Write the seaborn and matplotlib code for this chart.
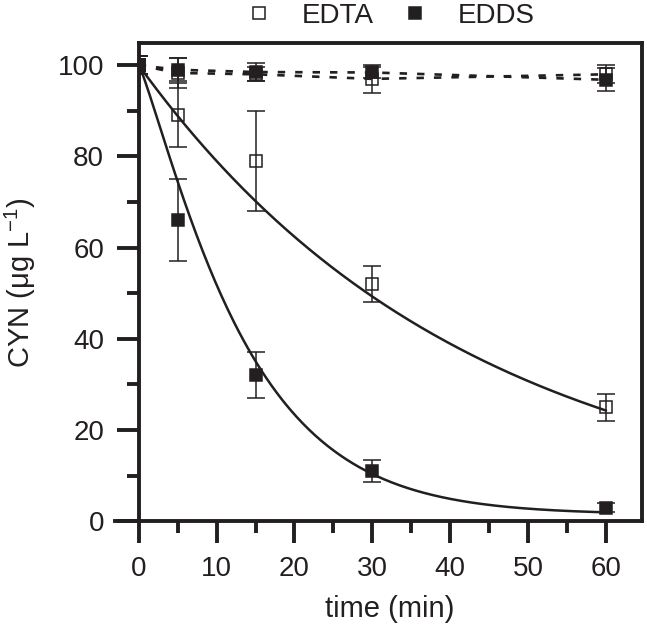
import numpy as np
import pandas as pd
import matplotlib
matplotlib.use("Agg")
import matplotlib.pyplot as plt
import seaborn as sns
from matplotlib.patches import Rectangle
from matplotlib.lines import Line2D
from matplotlib.ticker import MultipleLocator

# ---------------- data ----------------
time = [0, 5, 15, 30, 60]

edta = [100, 89, 79, 52, 25]
edta_err = [2, 7, 11, 4, 3]
edds = [100, 66, 32, 11, 3]
edds_err = [2, 9, 5, 2.5, 1]

edta_ctrl = [100, 98.3, 98.0, 97.0, 98.0]
edta_ctrl_err = [2, 3.2, 1.5, 3.0, 2.0]
edds_ctrl = [100, 99.0, 98.5, 98.4, 96.8]
edds_ctrl_err = [2, 2.5, 2.0, 1.2, 2.5]

# kinetic fit parameters of the solid curves
c0 = 100
edta_k = 0.0236                             # C = C0 exp(-k t)
edds_k, edds_n, edds_y0 = 0.0710, 1.163, 1.5  # C = y0 + (C0-y0) exp(-(k t)^n)

legend_labels = ["EDTA", "EDDS"]
x_ticks = [0, 10, 20, 30, 40, 50, 60]
y_ticks = [0, 20, 40, 60, 80, 100]

# ---------------- style ----------------
sns.set_style("ticks")
plt.rcParams["font.family"] = ["Liberation Sans", "DejaVu Sans"]
plt.rcParams["mathtext.fontset"] = "custom"
plt.rcParams["mathtext.rm"] = "Liberation Sans"
plt.rcParams["mathtext.default"] = "regular"

K = "#231f20"
fig = plt.figure(figsize=(6.47, 6.34), dpi=100)
ax = fig.add_axes([0.1771, 0.1779, 0.8149, 0.7538])

XMIN, XMAX, YMIN, YMAX = -3.1, 64.6, 0, 104.8
ax.set_xlim(XMIN, XMAX)
ax.set_ylim(YMIN, YMAX)

clip = Rectangle((0, YMIN), XMAX, YMAX - YMIN, transform=ax.transData)

df_ctrl = pd.DataFrame({"time": time * 2,
                        "CYN": edta_ctrl + edds_ctrl,
                        "series": ["EDTA"] * 5 + ["EDDS"] * 5})

# dashed control lines
sns.lineplot(data=df_ctrl, x="time", y="CYN", hue="series",
             palette={"EDTA": K, "EDDS": K}, lw=1.9, ax=ax,
             legend=False, zorder=2)
for ln in ax.lines:
    ln.set_dashes((2.8, 3.8))

# fitted curves
t_fit = np.linspace(0, 60, 300)
fit_df = pd.DataFrame({
    "time": np.concatenate([t_fit, t_fit]),
    "CYN": np.concatenate([
        c0 * np.exp(-edta_k * t_fit),
        edds_y0 + (c0 - edds_y0) * np.exp(-(edds_k * t_fit) ** edds_n)]),
    "series": ["EDTA"] * len(t_fit) + ["EDDS"] * len(t_fit)})
sns.lineplot(data=fit_df, x="time", y="CYN", hue="series",
             palette={"EDTA": K, "EDDS": K}, lw=1.8, ax=ax,
             legend=False, zorder=3)

def points(y, err, filled, z):
    cont = ax.errorbar(time, y, yerr=err, fmt="s", ms=8.8,
                       mfc=K if filled else "none", mec=K, mew=1.1,
                       ecolor=K, elinewidth=1.1, capsize=6.2, capthick=1.1,
                       zorder=z)
    for art in cont.get_children():
        art.set_clip_path(clip)
        art.set_zorder(z)

points(edta_ctrl, edta_ctrl_err, False, 4)
points(edds_ctrl, edds_ctrl_err, True, 5)
points(edta, edta_err, False, 4)
points(edds, edds_err, True, 5)

for ln in ax.lines:
    ln.set_clip_path(clip)

# ---------------- axes ----------------
ax.spines["left"].set_position(("data", 0))
ax.spines["top"].set_bounds(0, XMAX)
for s in ax.spines.values():
    s.set_linewidth(2.8)
    s.set_color(K)

ax.xaxis.set_major_locator(MultipleLocator(10))
ax.xaxis.set_minor_locator(MultipleLocator(5))
ax.yaxis.set_major_locator(MultipleLocator(20))
ax.yaxis.set_minor_locator(MultipleLocator(10))
ax.set_xticks(x_ticks)
ax.set_yticks(y_ticks)
ax.tick_params(which="both", direction="out", top=False, right=False)
ax.tick_params(which="major", length=16, width=2.8, color=K,
               labelsize=20, pad=9, labelcolor=K)
ax.tick_params(which="minor", length=8.5, width=2.8, color=K)

ax.set_xlabel("time (min)", fontsize=21, color=K)
ax.set_ylabel("CYN (μg L$^{-1}$)", fontsize=21, color=K)
ax.xaxis.set_label_coords(0.521, -0.155)
ax.yaxis.set_label_coords(-0.145, 0.5)

handles = [Line2D([], [], ls="none", marker="s", ms=8.8, mfc="none",
                  mec=K, mew=1.1),
           Line2D([], [], ls="none", marker="s", ms=8.8, mfc=K,
                  mec=K, mew=1.1)]
fig.legend(handles, legend_labels, loc="center",
           bbox_to_anchor=(390 / 647, 1 - 16 / 634), ncol=2,
           frameon=False, fontsize=20, handlelength=1.0,
           handletextpad=1.05, columnspacing=0.97, labelcolor=K)

fig.savefig("out.png", dpi=100)
